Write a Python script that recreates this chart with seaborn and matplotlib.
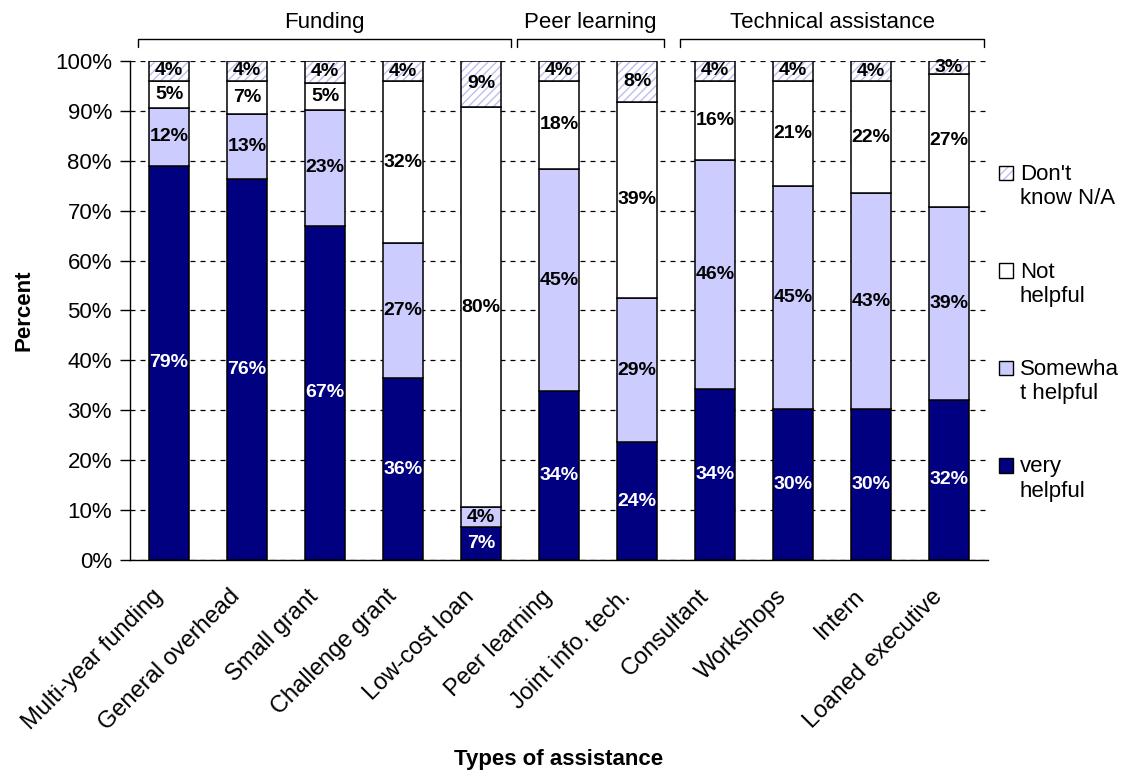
import numpy as np
import matplotlib
matplotlib.use("Agg")
import matplotlib.pyplot as plt
import matplotlib.transforms as mtransforms
import seaborn as sns
from matplotlib.patches import Patch, Rectangle
from matplotlib.legend_handler import HandlerPatch

# Data (percent of respondents)
categories = ["Multi-year funding", "General overhead", "Small grant", "Challenge grant",
              "Low-cost loan", "Peer learning", "Joint info. tech.", "Consultant",
              "Workshops", "Intern", "Loaned executive"]
very_helpful = [79.0, 76.4, 67.0, 36.4, 6.6, 33.8, 23.6, 34.3, 30.3, 30.3, 32.1]
somewhat_helpful = [11.6, 13.0, 23.2, 27.1, 4.0, 44.6, 28.9, 45.9, 44.6, 43.2, 38.6]
not_helpful = [5.4, 6.6, 5.4, 32.4, 80.2, 17.6, 39.3, 15.8, 21.1, 22.4, 26.7]
dont_know = [4.0, 4.0, 4.4, 4.1, 9.2, 4.0, 8.2, 4.0, 4.0, 4.1, 2.6]

groups = ["Funding", "Peer learning", "Technical assistance"]
group_spans = [(-0.40, 4.39), (4.46, 6.35), (6.55, 10.45)]

NAVY = "#000080"
LAVENDER = "#CCCCFF"
HATCH = "#BDBDF2"
BAR_W = 0.52
FS = 16

sns.set_theme(style="white")
plt.rcParams["font.family"] = ["Liberation Sans", "DejaVu Sans"]
plt.rcParams["hatch.linewidth"] = 1.0
plt.rcParams["text.color"] = "black"
plt.rcParams["axes.labelcolor"] = "black"
plt.rcParams["xtick.color"] = "black"
plt.rcParams["ytick.color"] = "black"

fig = plt.figure(figsize=(11.24, 7.72), dpi=100)
ax = fig.add_axes([0.1157, 0.2746, 0.7633, 0.6464])

b1 = np.array(very_helpful)
b2 = b1 + np.array(somewhat_helpful)
b3 = b2 + np.array(not_helpful)

edge = dict(edgecolor="black", linewidth=1.1)

# stacked segments, one barplot call per response
sns.barplot(x=categories, y=very_helpful, color=NAVY, saturation=1, width=BAR_W, ax=ax, **edge)
sns.barplot(x=categories, y=somewhat_helpful, bottom=b1, color=LAVENDER, saturation=1,
            width=BAR_W, ax=ax, **edge)
sns.barplot(x=categories, y=not_helpful, bottom=b2, color="white", saturation=1,
            width=BAR_W, ax=ax, **edge)
sns.barplot(x=categories, y=dont_know, bottom=b3, color="white", saturation=1, width=BAR_W,
            ax=ax, hatch="////", edgecolor=HATCH, linewidth=0)
sns.barplot(x=categories, y=dont_know, bottom=b3, color="white", saturation=1, width=BAR_W,
            ax=ax, facecolor="none", **edge)

# segment labels
layers = [(very_helpful, np.zeros(len(categories)), "white"),
          (somewhat_helpful, b1, "black"),
          (not_helpful, b2, "black"),
          (dont_know, b3, "black")]
for vals, base, col in layers:
    for i, (v, b) in enumerate(zip(vals, base)):
        ax.text(i, b + v / 2, f"{round(v):.0f}%", ha="center", va="center",
                fontsize=14, fontweight="bold", color=col, zorder=5)

ax.set_ylim(0, 100)
ax.set_xlim(-0.5, len(categories) - 0.5)
ax.set_yticks(np.arange(0, 101, 10))
ax.set_yticklabels([f"{t}%" for t in range(0, 101, 10)], fontsize=FS)
ax.yaxis.grid(True, color="black", linestyle=(0, (4, 4)), linewidth=0.9)
ax.set_axisbelow(True)

ax.set_xticks(range(len(categories)))
ax.set_xticklabels(categories, rotation=45, ha="right", va="center",
                   rotation_mode="anchor", fontsize=17)
ax.set_xticks(np.arange(-0.5, len(categories)), minor=True)
ax.tick_params(axis="x", which="major", length=0, pad=24)
ax.tick_params(axis="x", which="minor", length=7, width=1, color="black", direction="out")
ax.tick_params(axis="y", length=7, width=1, color="black", direction="out", left=True, pad=6)

# nudge the slanted labels a little left, like the original
shift = mtransforms.ScaledTranslation(-10 / 100, 0, fig.dpi_scale_trans)
for lab in ax.get_xticklabels():
    lab.set_transform(lab.get_transform() + shift)

for s in ["top", "right"]:
    ax.spines[s].set_visible(False)
for s in ["left", "bottom"]:
    ax.spines[s].set_color("black")
    ax.spines[s].set_linewidth(1)

ax.set_ylabel("Percent", fontsize=FS, fontweight="bold", labelpad=15)
ax.set_xlabel("Types of assistance", fontsize=FS, fontweight="bold", labelpad=10)

# group brackets on top
tr = mtransforms.blended_transform_factory(ax.transData, ax.transAxes)
for name, (x0, x1) in zip(groups, group_spans):
    ax.plot([x0, x0, x1, x1], [1.028, 1.044, 1.044, 1.028], color="black", lw=1,
            transform=tr, clip_on=False)
    ax.text((x0 + x1) / 2, 1.056, name, transform=tr, ha="center", va="bottom", fontsize=FS)


# legend: square markers sit beside the first line of each two-line label
def top_square(legend, orig_handle, xdescent, ydescent, width, height, fontsize):
    return Rectangle((-xdescent, -ydescent + 0.62 * fontsize), width, height)


handles = [
    (Patch(facecolor="white", edgecolor=HATCH, hatch="////", linewidth=0),
     Patch(facecolor="none", edgecolor="black", linewidth=1)),
    Patch(facecolor="white", edgecolor="black", linewidth=1),
    Patch(facecolor=LAVENDER, edgecolor="black", linewidth=1),
    Patch(facecolor=NAVY, edgecolor="black", linewidth=1),
]
labels = ["Don't\nknow N/A", "Not\nhelpful", "Somewha\nt helpful", "very\nhelpful"]
ax.legend(handles, labels, loc="center left", bbox_to_anchor=(1.003, 0.455), frameon=False,
          fontsize=FS, handlelength=0.62, handleheight=0.62, handletextpad=0.3,
          labelspacing=2.35, borderaxespad=0,
          handler_map={Patch: HandlerPatch(patch_func=top_square)})

fig.savefig("out.png", dpi=100)
